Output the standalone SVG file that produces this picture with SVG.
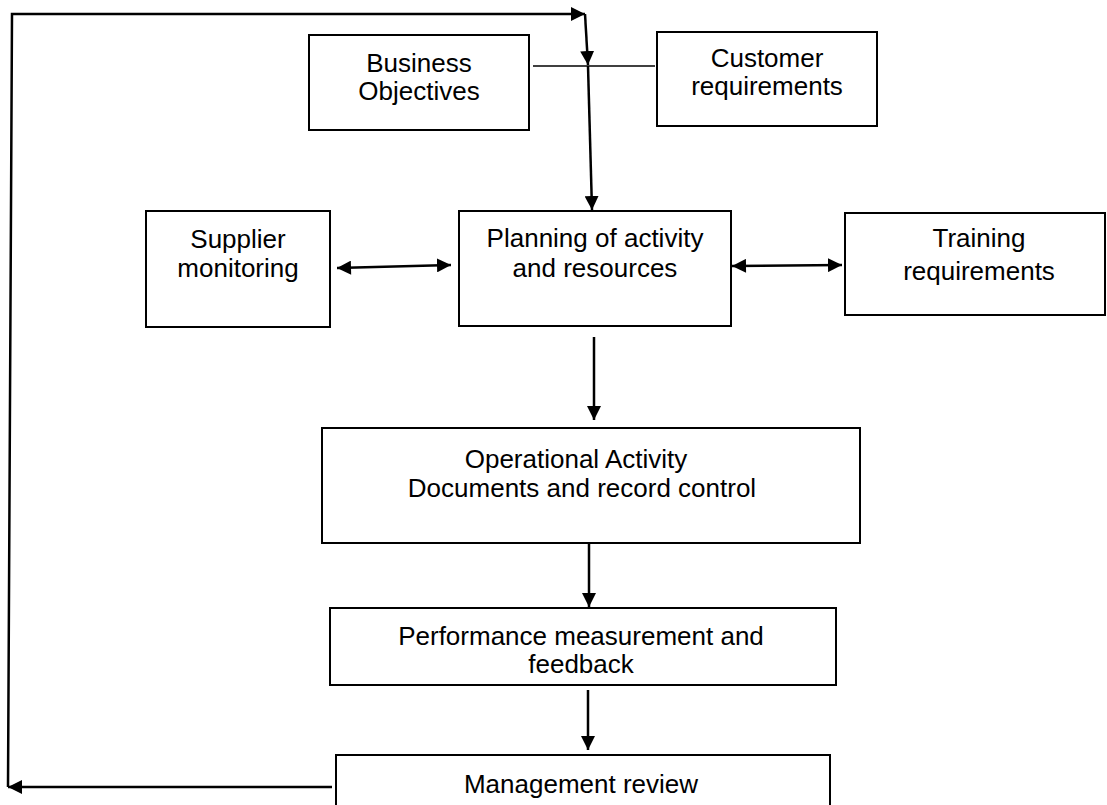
<svg xmlns="http://www.w3.org/2000/svg" width="1107" height="805" viewBox="0 0 1107 805">
  <style>
    .box { fill: #ffffff; stroke: #000000; stroke-width: 2; }
    .lbl { font-family: "Liberation Sans", Arial, sans-serif; font-size: 26px; fill: #000000; text-anchor: middle; }
    .con { fill: none; stroke: #000000; stroke-width: 2.5; }
    .thin { fill: none; stroke: #000000; stroke-width: 1.5; }
  </style>
  <defs>
    <marker id="arr" markerUnits="userSpaceOnUse" markerWidth="16" markerHeight="14" refX="14" refY="7" orient="auto">
      <path d="M0,0 L14,7 L0,14 Z" fill="#000000"/>
    </marker>
    <marker id="arrs" markerUnits="userSpaceOnUse" markerWidth="16" markerHeight="14" refX="0" refY="7" orient="auto">
      <path d="M14,0 L0,7 L14,14 Z" fill="#000000"/>
    </marker>
  </defs>
  <rect width="1107" height="805" fill="#ffffff"/>

  <g id="connectors">
    <polyline class="con" points="332,787 8,787" marker-end="url(#arr)"/>
    <polyline class="con" points="8,787 12,14 585,14" marker-end="url(#arr)"/>
    <line class="thin" x1="533" y1="66" x2="655" y2="66"/>
    <line class="con" x1="585" y1="14" x2="588" y2="65" marker-end="url(#arr)"/>
    <line class="con" x1="588" y1="66" x2="592" y2="210" marker-end="url(#arr)"/>
    <line class="con" x1="337" y1="268" x2="451" y2="265" marker-start="url(#arrs)" marker-end="url(#arr)"/>
    <line class="con" x1="732" y1="266" x2="842" y2="265" marker-start="url(#arrs)" marker-end="url(#arr)"/>
    <line class="con" x1="594" y1="337" x2="594" y2="420" marker-end="url(#arr)"/>
    <line class="con" x1="589" y1="543" x2="589" y2="607" marker-end="url(#arr)"/>
    <line class="con" x1="588" y1="690" x2="588" y2="750" marker-end="url(#arr)"/>
  </g>

  <g id="business-objectives">
    <rect class="box" x="309" y="35" width="220" height="95"/>
    <text class="lbl" x="419" y="72">Business</text>
    <text class="lbl" x="419" y="100">Objectives</text>
  </g>

  <g id="customer-requirements">
    <rect class="box" x="657" y="32" width="220" height="94"/>
    <text class="lbl" x="767" y="67">Customer</text>
    <text class="lbl" x="767" y="95">requirements</text>
  </g>

  <g id="supplier-monitoring">
    <rect class="box" x="146" y="211" width="184" height="116"/>
    <text class="lbl" x="238" y="248">Supplier</text>
    <text class="lbl" x="238" y="277">monitoring</text>
  </g>

  <g id="planning">
    <rect class="box" x="459" y="211" width="272" height="115"/>
    <text class="lbl" x="595" y="247">Planning of activity</text>
    <text class="lbl" x="595" y="277">and resources</text>
  </g>

  <g id="training-requirements">
    <rect class="box" x="845" y="213" width="260" height="102"/>
    <text class="lbl" x="979" y="247">Training</text>
    <text class="lbl" x="979" y="280">requirements</text>
  </g>

  <g id="operational-activity">
    <rect class="box" x="322" y="428" width="538" height="115"/>
    <text class="lbl" x="576" y="468">Operational Activity</text>
    <text class="lbl" x="582" y="497">Documents and record control</text>
  </g>

  <g id="performance-measurement">
    <rect class="box" x="330" y="608" width="506" height="77"/>
    <text class="lbl" x="581" y="645">Performance measurement and</text>
    <text class="lbl" x="581" y="673">feedback</text>
  </g>

  <g id="management-review">
    <rect class="box" x="336" y="755" width="494" height="60"/>
    <text class="lbl" x="581" y="793">Management review</text>
  </g>
</svg>
